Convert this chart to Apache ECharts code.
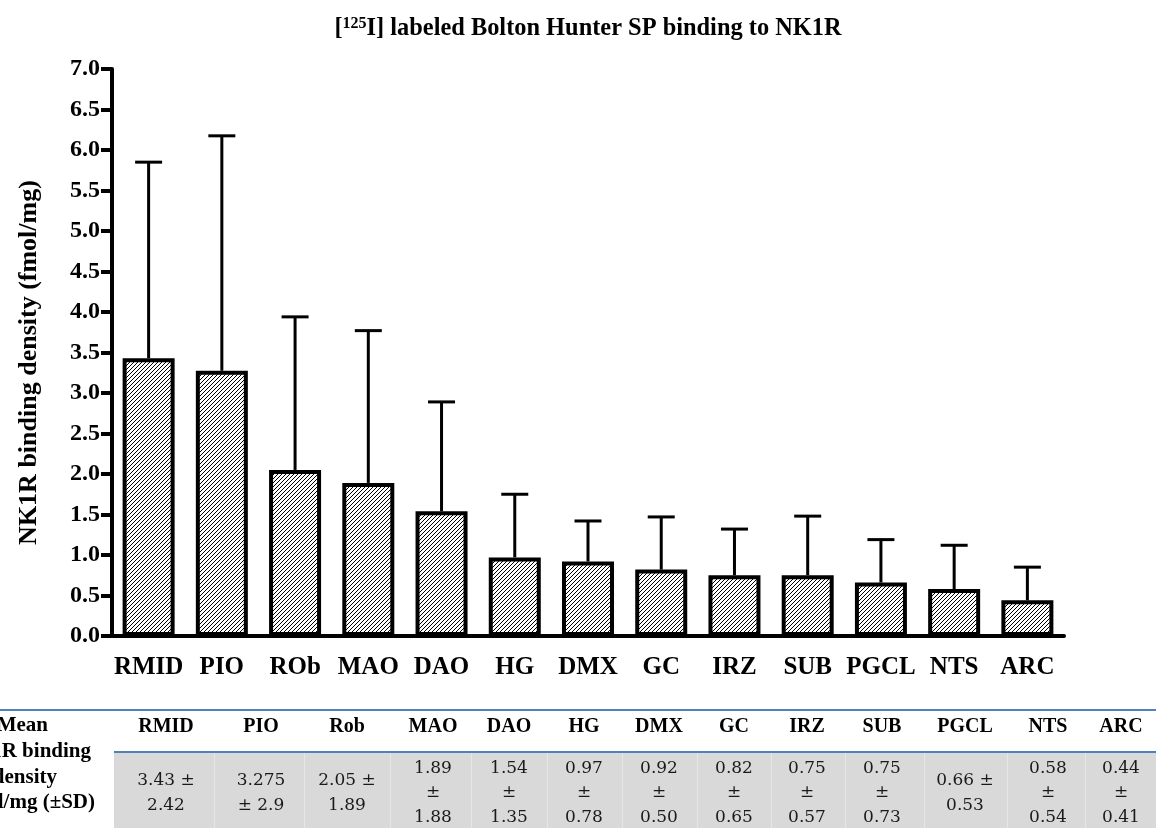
<!DOCTYPE html>
<html>
<head>
<meta charset="utf-8">
<script src="https://cdn.jsdelivr.net/npm/echarts@6/dist/echarts.min.js"></script>
<style>
html,body{margin:0;padding:0;background:#fff;}
#chart{width:1156px;height:828px;}
</style>
</head>
<body>
<div id="chart"></div>
<script>
// ---- data ----
const categories = ['RMID','PIO','ROb','MAO','DAO','HG','DMX','GC','IRZ','SUB','PGCL','NTS','ARC'];
const means = [3.43, 3.275, 2.05, 1.89, 1.54, 0.97, 0.92, 0.82, 0.75, 0.75, 0.66, 0.58, 0.44];
const sds   = [2.42, 2.9, 1.89, 1.88, 1.35, 0.78, 0.50, 0.65, 0.57, 0.73, 0.53, 0.54, 0.41];
const tableHeaders = ['RMID','PIO','Rob','MAO','DAO','HG','DMX','GC','IRZ','SUB','PGCL','NTS','ARC'];
const tableCells = [
  ['3.43 ±','2.42'], ['3.275','± 2.9'], ['2.05 ±','1.89'],
  ['1.89','±','1.88'], ['1.54','±','1.35'], ['0.97','±','0.78'],
  ['0.92','±','0.50'], ['0.82','±','0.65'], ['0.75','±','0.57'],
  ['0.75','±','0.73'], ['0.66 ±','0.53'], ['0.58','±','0.54'], ['0.44','±','0.41']
];
const rowLabelLines = ['Mean','NK1R binding','density','fmol/mg (±SD)'];
const titleText = '[{sup|125}I] labeled Bolton Hunter SP binding to NK1R';
const yAxisName = 'NK1R binding density (fmol/mg)';

// ---- layout / style ----
const SERIF = '"Liberation Serif","Times New Roman",serif';
const VALSERIF = '"DejaVu Serif",serif';

function hatch(){
  const s = 4, c = document.createElement('canvas');
  c.width = s; c.height = s;
  const g = c.getContext('2d');
  g.fillStyle = '#fff'; g.fillRect(0,0,s,s);
  g.strokeStyle = '#000'; g.lineWidth = 1.0;
  g.beginPath();
  g.moveTo(-1, s+1); g.lineTo(s+1, -1);
  g.moveTo(-1, 1); g.lineTo(1, -1);
  g.moveTo(s-1, s+1); g.lineTo(s+1, s-1);
  g.stroke();
  return c;
}

const chart = echarts.init(document.getElementById('chart'), null, {renderer:'canvas'});

const colCenters = [166,261,347,433,509,584,659,734,807,882,965,1048,1121];
const graphics = [];
graphics.push({type:'rect', shape:{x:114,y:752,width:1042,height:80}, style:{fill:'#d9d9d9'}, silent:true});
for (let i=0;i<colCenters.length-1;i++){
  const x = Math.round((colCenters[i]+colCenters[i+1])/2)+0.5;
  graphics.push({type:'line', shape:{x1:x,y1:752,x2:x,y2:828}, style:{stroke:'#e6e6e6',lineWidth:1}, silent:true});
}
graphics.push({type:'line', shape:{x1:0,y1:710,x2:1156,y2:710}, style:{stroke:'#4f81bd',lineWidth:2}, silent:true});
graphics.push({type:'line', shape:{x1:114,y1:752,x2:1156,y2:752}, style:{stroke:'#4f81bd',lineWidth:2}, silent:true});
tableHeaders.forEach((h,i)=>{
  graphics.push({type:'text', x:colCenters[i], y:727, style:{text:h, font:'bold 20px '+SERIF, fill:'#000', textAlign:'center', textVerticalAlign:'middle'}, silent:true});
});
tableCells.forEach((lines,i)=>{
  graphics.push({type:'text', x:colCenters[i], y:793, style:{text:lines.join('\n'), font:'17px '+VALSERIF, lineHeight:24.5, fill:'#1a1a1a', textAlign:'center', textVerticalAlign:'middle'}, silent:true});
});
const rowRight = [48, 91, 57, 95];
const rowY = [726, 752, 778, 803];
rowLabelLines.forEach((t,i)=>{
  graphics.push({type:'text', x:rowRight[i], y:rowY[i], style:{text:t, font:'bold 21px '+SERIF, fill:'#000', textAlign:'right', textVerticalAlign:'middle'}, silent:true});
});

const option = {
  backgroundColor:'#fff',
  animation:false,
  title:{
    text:titleText, left:583, top:11, textAlign:'center',
    textStyle:{fontFamily:SERIF, fontWeight:'bold', fontSize:24.4, color:'#000',
      rich:{sup:{fontFamily:SERIF, fontWeight:'bold', fontSize:16, color:'#000', verticalAlign:'top', padding:[0,0,10,0]}}}
  },
  grid:{left:112, right:92, top:69, bottom:192},
  xAxis:{
    type:'category', data:categories,
    axisLine:{lineStyle:{color:'#000', width:4}},
    axisTick:{alignWithLabel:true, length:12, lineStyle:{color:'#000', width:4}},
    axisLabel:{interval:0, color:'#000', fontFamily:SERIF, fontWeight:'bold', fontSize:25, margin:19}
  },
  yAxis:{
    type:'value', min:0, max:7, interval:0.5,
    name:yAxisName, nameLocation:'middle', nameGap:70, nameRotate:90,
    nameTextStyle:{color:'#000', fontFamily:SERIF, fontWeight:'bold', fontSize:26, padding:[0,20,0,0]},
    axisLine:{show:true, lineStyle:{color:'#000', width:4}},
    axisTick:{show:true, length:11, lineStyle:{color:'#000', width:4}},
    axisLabel:{color:'#000', fontFamily:SERIF, fontWeight:'bold', fontSize:24, margin:12,
      formatter:v=>v.toFixed(1)},
    splitLine:{show:false}
  },
  series:[
    {
      type:'custom', z:1,
      data:means.map((m,i)=>[i, m, m+sds[i]]),
      renderItem:function(params, api){
        const x = api.value(0);
        const p0 = api.coord([x, api.value(1)]);
        const p1 = api.coord([x, api.value(2)]);
        const half = 13.5;
        return {type:'group', children:[
          {type:'line', shape:{x1:p0[0],y1:p0[1],x2:p1[0],y2:p1[1]}, style:{stroke:'#000', lineWidth:3}},
          {type:'line', shape:{x1:p1[0]-half,y1:p1[1],x2:p1[0]+half,y2:p1[1]}, style:{stroke:'#000', lineWidth:3}}
        ]};
      }
    },
    {
      type:'bar', z:2, data:means, barWidth:52,
      itemStyle:{color:{image:hatch(), repeat:'repeat'}, borderColor:'#000', borderWidth:4}
    }
  ],
  graphic:graphics
};
chart.setOption(option);
</script>
</body>
</html>
